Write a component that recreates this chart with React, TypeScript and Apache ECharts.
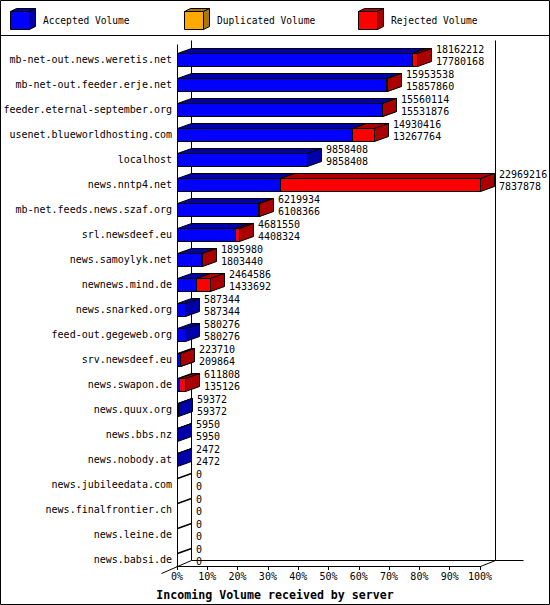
import React, { useEffect, useRef } from "react";
import * as echarts from "echarts";

const categories = [
  "mb-net-out.news.weretis.net",
  "mb-net-out.feeder.erje.net",
  "feeder.eternal-september.org",
  "usenet.blueworldhosting.com",
  "localhost",
  "news.nntp4.net",
  "mb-net.feeds.news.szaf.org",
  "srl.newsdeef.eu",
  "news.samoylyk.net",
  "newnews.mind.de",
  "news.snarked.org",
  "feed-out.gegeweb.org",
  "srv.newsdeef.eu",
  "news.swapon.de",
  "news.quux.org",
  "news.bbs.nz",
  "news.nobody.at",
  "news.jubileedata.com",
  "news.finalfrontier.ch",
  "news.leine.de",
  "news.babsi.de",
];

const offeredVolume = [
  18162212, 15953538, 15560114, 14930416, 9858408, 22969216, 6219934, 4681550,
  1895980, 2464586, 587344, 580276, 223710, 611808, 59372, 5950, 2472, 0, 0, 0, 0,
];
const acceptedVolume = [
  17780168, 15857860, 15531876, 13267764, 9858408, 7837878, 6108366, 4408324,
  1803440, 1433692, 587344, 580276, 209864, 135126, 59372, 5950, 2472, 0, 0, 0, 0,
];
const duplicatedVolume = [
  0, 0, 0, 0, 0, 0, 0, 0, 0, 0, 0, 0, 0, 0, 0, 0, 0, 0, 0, 0, 0,
];
const rejectedVolume = [
  382044, 95678, 28238, 1662652, 0, 15131338, 111568, 273226, 92540, 1030894,
  0, 0, 13846, 476682, 0, 0, 0, 0, 0, 0, 0,
];

const seriesNames = ["Accepted Volume", "Duplicated Volume", "Rejected Volume"];
const frontColors = ["#0000FF", "#FFAA00", "#FF0000"];
const sideColors = ["#0000AA", "#AA7700", "#AA0000"];

const xMin = 0;
const xMax = 100;
const xInterval = 10;
const axisTitle = "Incoming Volume received by server";

const FONT = "'DejaVu Sans Mono', monospace";
const DX = 14;
const DY = 5;

export default function App() {
  const ref = useRef<HTMLDivElement>(null);

  useEffect(() => {
    if (!ref.current) return;
    const chart = echarts.init(ref.current, null, { renderer: "svg" });
    const n = categories.length;
    const maxOffered = Math.max(...offeredVolume);
    const pct = (v: number) => (v / maxOffered) * 100;

    const volumes = [acceptedVolume, duplicatedVolume, rejectedVolume];

    const segData = volumes.map((arr, k) =>
      arr.map((_, i) => {
        let start = 0;
        for (let j = 0; j < k; j++) start += volumes[j][i];
        const end = start + arr[i];
        return [pct(start), pct(end), i, offeredVolume[i]];
      })
    );

    const makeRender = (k: number) => (params: any, api: any) => {
      const start = Number(api.value(0));
      const end = Number(api.value(1));
      const idx = api.value(2);
      if (!(end - start > 0)) return null;
      const p0 = api.coord([start, idx]);
      const p1 = api.coord([end, idx]);
      const x0 = Math.round(p0[0]) + 0.5;
      const x1 = Math.round(p1[0]) + 0.5;
      const top = Math.floor(p0[1] - 6) + 0.5;
      const bottom = top + 13;
      const stroke = { stroke: "#000", lineWidth: 1 };
      return {
        type: "group",
        children: [
          {
            type: "polygon",
            shape: { points: [[x0, top], [x1, top], [x1, bottom], [x0, bottom]] },
            style: { fill: frontColors[k], ...stroke },
          },
          {
            type: "polygon",
            shape: { points: [[x0, top], [x0 + DX, top - DY], [x1 + DX, top - DY], [x1, top]] },
            style: { fill: sideColors[k], ...stroke },
          },
          {
            type: "polygon",
            shape: { points: [[x1, top], [x1 + DX, top - DY], [x1 + DX, bottom - DY], [x1, bottom]] },
            style: { fill: sideColors[k], ...stroke },
          },
        ],
      };
    };

    const frameRender = (params: any, api: any) => {
      const a = api.coord([xMin, 0]);
      const b = api.coord([xMax, n - 1]);
      const xl = Math.round(a[0]) + 0.5;
      const xr = Math.round(b[0]) + 0.5;
      const yTopFront = Math.floor(a[1]) - 15 + 0.5;
      const yTopBack = Math.floor(a[1]) - 19 + 0.5;
      const yBottomFront = Math.floor(b[1]) + 7 + 0.5;
      const yBottomBack = Math.floor(b[1]) + 1 + 0.5;
      const st = { stroke: "#000", lineWidth: 1 };
      const line = (x1: number, y1: number, x2: number, y2: number, style: any = st) => ({
        type: "line",
        shape: { x1, y1, x2, y2 },
        style,
      });
      const children: any[] = [
        line(xl, yTopFront, xl, yBottomFront),
        line(xl + DX, yTopBack, xl + DX, yBottomBack),
        line(xr + 15, yTopBack, xr + 15, yBottomBack),
        line(xl + DX, yBottomBack, xr + 43, yBottomBack),
        line(xr, yBottomFront, xr + 15, yBottomBack),
        line(xl - 16, yBottomFront + 7, xl + DX, yBottomBack),
      ];
      // empty rows: only the top-left edge of a zero-width bar is drawn
      for (let i = 0; i < n; i++) {
        if (offeredVolume[i] === 0) {
          const c = api.coord([xMin, i]);
          const top = Math.floor(c[1] - 6) + 0.5;
          children.push(line(xl, top, xl + DX, top - DY, { stroke: "#000", lineWidth: 1.5 }));
        }
      }
      return { type: "group", children };
    };

    const labelData = offeredVolume.map((v, i) => [pct(v), i, v, acceptedVolume[i]]);
    const labelRender = (params: any, api: any) => {
      const p = api.coord([api.value(0), api.value(1)]);
      const x = Math.round(p[0]) + DX + 5;
      const cy = p[1];
      const ts = { fontFamily: FONT, fontSize: 10, fill: "#000", verticalAlign: "middle", align: "left" };
      return {
        type: "group",
        children: [
          { type: "text", x, y: cy - 10.5, style: { text: String(api.value(2)), ...ts } },
          { type: "text", x, y: cy + 1.5, style: { text: String(api.value(3)), ...ts } },
        ],
      };
    };

    const legendGraphics: any[] = seriesNames.map((name, k) => {
      const lx = 10.5 + 174 * k;
      const ly = 11.5;
      const w = 19;
      const h = 18;
      const st = { stroke: "#000", lineWidth: 1 };
      return {
        type: "group",
        children: [
          {
            type: "polygon",
            shape: { points: [[lx, ly], [lx + 6, ly - 3], [lx + w + 6, ly - 3], [lx + w, ly]] },
            style: { fill: sideColors[k], ...st },
          },
          {
            type: "polygon",
            shape: { points: [[lx + w, ly], [lx + w + 6, ly - 3], [lx + w + 6, ly + h - 3], [lx + w, ly + h]] },
            style: { fill: sideColors[k], ...st },
          },
          {
            type: "rect",
            shape: { x: lx, y: ly, width: w, height: h },
            style: { fill: frontColors[k], ...st },
          },
          {
            type: "text",
            x: lx + 32.5,
            y: 20.5,
            style: { text: name, fontFamily: FONT, fontSize: 9.6, fill: "#000", verticalAlign: "middle" },
          },
        ],
      };
    });

    chart.setOption({
      animation: false,
      backgroundColor: "#fff",
      title: {
        text: axisTitle,
        left: "center",
        top: 584,
        textStyle: { fontFamily: FONT, fontWeight: "bold", fontSize: 11.6, color: "#000" },
      },
      grid: { left: 177, top: 47, width: 303, height: 525 },
      xAxis: {
        type: "value",
        min: xMin,
        max: xMax,
        interval: xInterval,
        offset: -6,
        axisLine: { show: true, lineStyle: { color: "#000", width: 1 } },
        axisTick: { show: true, length: 4, lineStyle: { color: "#000" } },
        axisLabel: {
          formatter: "{value}%",
          fontFamily: FONT,
          fontSize: 10,
          color: "#000",
          margin: 5,
        },
        splitLine: { show: false },
      },
      yAxis: {
        type: "category",
        data: categories,
        inverse: true,
        axisLine: { show: false },
        axisTick: { show: false },
        axisLabel: { fontFamily: FONT, fontSize: 10, color: "#000", margin: 5 },
        splitLine: { show: false },
      },
      graphic: [
        {
          type: "rect",
          shape: { x: 0.5, y: 0.5, width: 549, height: 604 },
          style: { fill: "none", stroke: "#000", lineWidth: 1 },
          silent: true,
        },
        {
          type: "line",
          shape: { x1: 0, y1: 35.5, x2: 550, y2: 35.5 },
          style: { stroke: "#000", lineWidth: 1 },
        },
        ...legendGraphics,
      ],
      series: [
        {
          type: "custom",
          name: "frame",
          renderItem: frameRender,
          data: [[0, 0]],
          clip: false,
          silent: true,
        },
        ...seriesNames.map((name, k) => ({
          type: "custom",
          name,
          renderItem: makeRender(k),
          data: segData[k],
          encode: { x: [0, 1], y: 2 },
          clip: false,
        })),
        {
          type: "custom",
          name: "labels",
          renderItem: labelRender,
          data: labelData,
          encode: { x: 0, y: 1 },
          clip: false,
        },
      ],
    });

    return () => chart.dispose();
  }, []);

  return (
    <div
      ref={ref}
      style={{ position: "fixed", left: 0, top: 0, width: 550, height: 605, background: "#fff" }}
    />
  );
}
